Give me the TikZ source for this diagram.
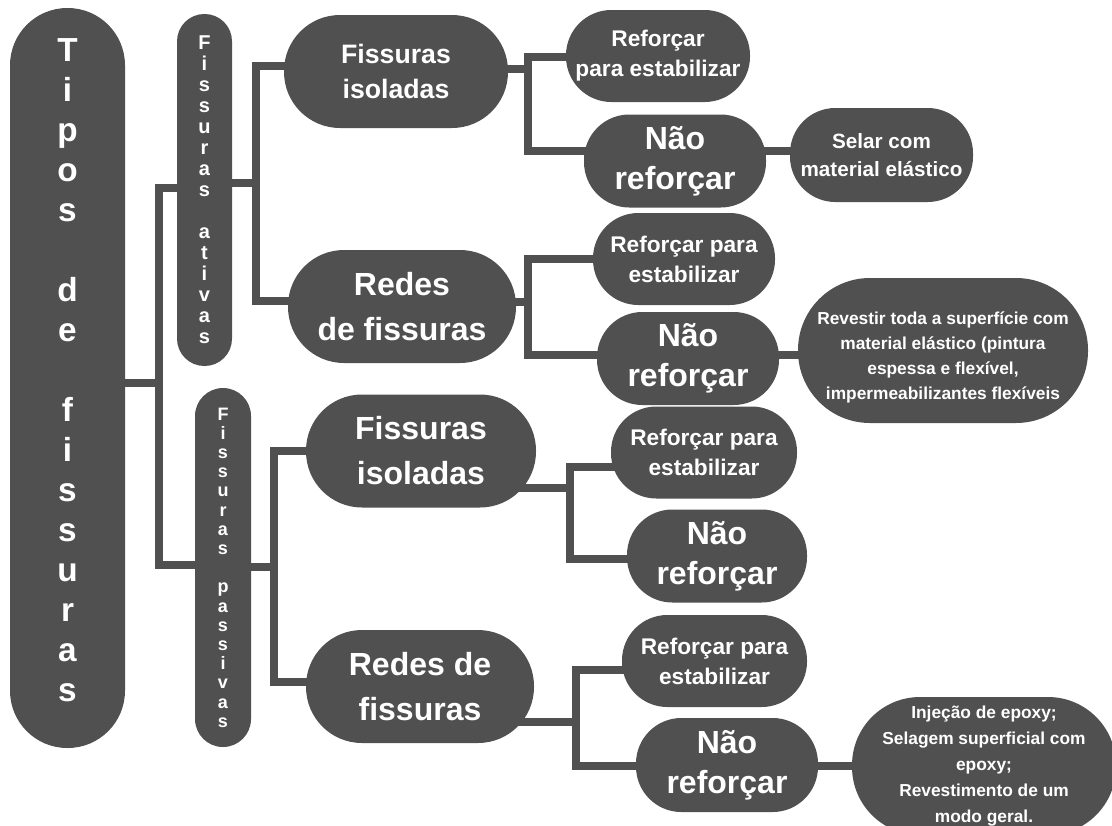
\documentclass[tikz,border=0pt]{standalone}
\usepackage{fontspec}
\setmainfont{Liberation Sans}
\usepackage{tikz}
\usetikzlibrary{positioning, backgrounds}
\definecolor{fissGray}{HTML}{505050}

\begin{document}
\begin{tikzpicture}[
    x=0.75pt, y=-0.75pt,
    pill/.style={fill=fissGray, text=white, inner sep=0pt,
                 align=center, font=\bfseries},
    ramo/.style={pill, minimum height=84.75pt, rounded corners=42pt,
                 font=\bfseries\fontsize{24}{33.75}\selectfont},
    reforco/.style={pill, minimum height=69pt, rounded corners=34pt,
                    font=\bfseries\fontsize{17}{22.5}\selectfont},
    naoref/.style={pill, minimum height=69.75pt, rounded corners=34pt,
                   font=\bfseries\fontsize{24}{30}\selectfont},
    remedio/.style={pill, rounded corners=51pt,
                    font=\bfseries\fontsize{13}{19.5}\selectfont},
    link/.style={draw=fissGray, line width=5.5pt},
]
\useasboundingbox (0,0) rectangle (1112,825);
\clip (0,0) rectangle (1112,825);

% Root and the two kinds of cracks
\node[pill, minimum width=86.25pt, minimum height=555pt, rounded corners=43pt,
      font=\bfseries\fontsize{25}{30}\selectfont] (tipos) at (67.5,378)
    {T\\i\\p\\o\\s\\[30pt]d\\e\\[30pt]f\\i\\s\\s\\u\\r\\a\\s\rule[-12pt]{0pt}{12pt}};
\node[pill, minimum width=41.25pt, minimum height=264pt, rounded corners=20.5pt,
      font=\bfseries\fontsize{15}{15.75}\selectfont] (ativas) at (204.5,190)
    {F\\i\\s\\s\\u\\r\\a\\s\\[15.75pt]a\\t\\i\\v\\a\\s};
\node[pill, minimum width=42pt, minimum height=269.25pt, rounded corners=21pt,
      font=\bfseries\fontsize{13.5}{14.4}\selectfont] (passivas) at (223,567.5)
    {F\\i\\s\\s\\u\\r\\a\\s\\[14.4pt]p\\a\\s\\s\\i\\v\\a\\s};

% Active cracks
\node[ramo, minimum width=168pt, font=\bfseries\fontsize{20}{26}\selectfont]
    (afis) at (396,71.5) {Fissuras\\isoladas};
\node[ramo, minimum width=171pt] (ared) at (402,306.5) {Redes\\de fissuras};
\node[reforco, minimum width=138pt] (afisRef) at (658,56)
    {Reforçar\\para estabilizar};
\node[naoref, minimum width=136.5pt] (afisNao) at (675,161) {Não\\reforçar};
\node[reforco, minimum width=137.25pt, minimum height=70.5pt,
      font=\bfseries\fontsize{15.5}{21}\selectfont] (selar) at (881.5,155)
    {Selar com\\material elástico};
\node[reforco, minimum width=136.5pt] (aredRef) at (684,259)
    {Reforçar para\\estabilizar};
\node[naoref, minimum width=136.5pt] (aredNao) at (688,358.5) {Não\\reforçar};
\node[remedio, minimum width=217.5pt, minimum height=108.75pt, rounded corners=54pt,
      font=\bfseries\fontsize{13}{18.75}\selectfont] (revestir) at (943,350.5)
    {\rule{0pt}{19.5pt}Revestir toda a superfície com\\material elástico (pintura\\espessa e flexível,\\impermeabilizantes flexíveis};

% Passive cracks
\node[ramo, minimum width=172.5pt] (pfis) at (421,451) {Fissuras\\isoladas};
\node[ramo, minimum width=171pt] (pred) at (420,686.5) {Redes de\\fissuras};
\node[reforco, minimum width=139.5pt] (pfisRef) at (704,452.5)
    {Reforçar para\\estabilizar};
\node[naoref, minimum width=135pt] (pfisNao) at (717,556) {Não\\reforçar};
\node[reforco, minimum width=138.75pt] (predRef) at (714.5,661)
    {Reforçar para\\estabilizar};
\node[naoref, minimum width=136.5pt, minimum height=70.5pt] (predNao) at (727,765)
    {Não\\reforçar};
\node[remedio, minimum width=198pt, minimum height=103.5pt] (injecao) at (984,766)
    {Injeção de epoxy;\\Selagem superficial com\\epoxy;\\Revestimento de um\\modo geral.};

% Connectors
\begin{scope}[on background layer]
\coordinate (j0) at (159,383);
\draw[link] (tipos |- j0) -- (j0);
\draw[link] (ativas |- 0,188) -| (j0);
\draw[link] (passivas |- 0,565) -| (j0);

\coordinate (j1) at (256,183);
\draw[link] (ativas |- j1) -- (j1);
\draw[link] (afis |- 0,66) -| (j1);
\draw[link] (ared |- 0,301) -| (j1);

\coordinate (j2) at (274,567);
\draw[link] (passivas |- j2) -- (j2);
\draw[link] (pfis |- 0,451) -| (j2);
\draw[link] (pred |- 0,682) -| (j2);

\coordinate (j3) at (528,69);
\draw[link] (afis |- j3) -- (j3);
\draw[link] (afisRef |- 0,57) -| (j3);
\draw[link] (afisNao |- 0,151) -| (j3);
\draw[link] (afisNao |- 0,151) -- (selar |- 0,151);

\coordinate (j4) at (528,302);
\draw[link] (ared |- j4) -- (j4);
\draw[link] (aredRef |- 0,259) -| (j4);
\draw[link] (aredNao |- 0,355) -| (j4);
\draw[link] (aredNao |- 0,355) -- (revestir |- 0,355);

\coordinate (j5) at (570,488);
\draw[link] (pfis |- j5) -- (j5);
\draw[link] (pfisRef |- 0,467) -| (j5);
\draw[link] (pfisNao |- 0,559) -| (j5);

\coordinate (j6) at (576,722);
\draw[link] (pred |- j6) -- (j6);
\draw[link] (predRef |- 0,670) -| (j6);
\draw[link] (predNao |- 0,766) -| (j6);
\draw[link] (predNao |- 0,766) -- (injecao |- 0,766);
\end{scope}
\end{tikzpicture}
\end{document}
